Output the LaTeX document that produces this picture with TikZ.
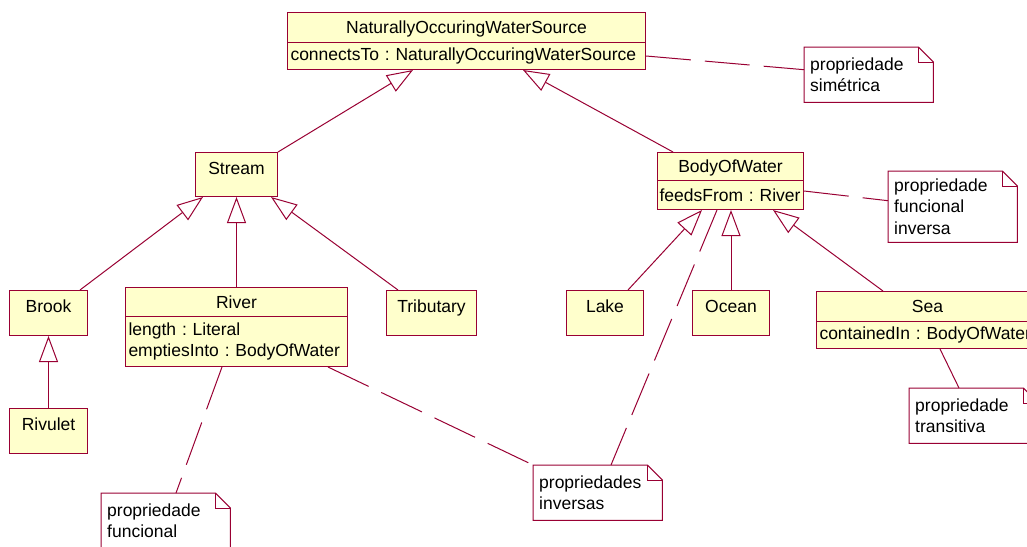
\documentclass[tikz,border=0pt]{standalone}
\usepackage{fontspec}
\setmainfont{Liberation Sans}
\usetikzlibrary{arrows.meta,calc}
\definecolor{rose}{HTML}{990033}
\definecolor{clsfill}{HTML}{FFFFCC}
\frenchspacing
\begin{document}
\begin{tikzpicture}[x=1pt,y=-1pt,
  every node/.style={font=\fontsize{17.5}{21.5}\selectfont},
  cls/.style={draw=rose, fill=clsfill, line width=1pt, anchor=north west, inner xsep=0pt, align=center},
  ttl/.style 2 args={cls, minimum width=#1, minimum height=#2, inner ysep=0pt, text height=12.5pt, text depth=0pt},
  single/.style 2 args={cls, minimum width=#1, inner ysep=9pt, text height=12.5pt, text depth=#2},
  attr/.style={draw=rose, fill=clsfill, line width=1pt, anchor=north west, inner xsep=3pt, inner ysep=0pt, align=left},
  note/.style={fill=white, anchor=north west, inner xsep=6pt, inner ysep=0pt, align=left, minimum width=129pt, text width=117pt},
  notebd/.style={draw=rose, line width=1pt},
  gen/.style={draw=rose, line width=1pt, -{Triangle[open,length=26pt,width=19pt]}},
  link/.style={draw=rose, line width=1pt, dash pattern=on 45pt off 14pt}
]
\fill[white] (0,0) rectangle (1027,546);
\useasboundingbox (0,0) rectangle (1027,546);

% classes
\node[ttl={358pt}{30pt}] (nows) at (287,12) {NaturallyOccuringWaterSource};
\node[attr, minimum width=358pt, text width=352pt, minimum height=27pt] (nowsa) at (287,42) {connectsTo : NaturallyOccuringWaterSource};

\node[single={82pt}{13.5pt}] (stream) at (195,152) {Stream};

\node[ttl={146pt}{28pt}] (bow) at (657,152) {BodyOfWater};
\node[attr, inner xsep=2pt, minimum width=146pt, text width=142pt, minimum height=29pt] (bowa) at (657,180) {\mbox{feedsFrom : River}};

\node[single={78pt}{14.5pt}] (brook) at (9,290) {Brook};
\node[single={78pt}{14.5pt}] (rivulet) at (9,408) {Rivulet};

\node[ttl={222pt}{29pt}] (river) at (125,287) {River};
\node[attr, minimum width=222pt, text width=216pt, minimum height=50pt] (rivera) at (125,316) {length : Literal\\emptiesInto : BodyOfWater};

\node[single={90pt}{14.5pt}] (trib) at (386,290) {Tributary};
\node[single={77pt}{14.5pt}] (lake) at (566,290) {Lake};
\node[single={77pt}{14.5pt}] (ocean) at (692,290) {Ocean};

\node[ttl={222pt}{30pt}] (sea) at (816,291) {Sea};
\node[attr, minimum width=222pt, text width=216pt, minimum height=27pt] (seaa) at (816,321) {containedIn : BodyOfWater};

% notes
\node[note, minimum height=55pt] (sim) at (804,47) {propriedade\\simétrica};
\node[note, minimum height=71pt] (finv) at (888,171) {propriedade\\funcional\\inversa};
\node[note, minimum height=55pt] (trans) at (909,388) {propriedade\\transitiva};
\node[note, minimum height=55pt] (func) at (101,493) {propriedade\\funcional};
\node[note, minimum height=55pt] (inv) at (533,465) {propriedades\\inversas};
\foreach \n in {sim,finv,trans,func,inv}{
  \draw[notebd] (\n.north west) -- ([xshift=-15pt]\n.north east) -- ([yshift=-15pt]\n.north east) -- (\n.south east) -- (\n.south west) -- cycle;
  \draw[notebd] ([xshift=-15pt]\n.north east) |- ([yshift=-15pt]\n.north east);
}

% generalizations
\draw[gen] (stream.north east) -- ([xshift=126pt]nowsa.south west);
\draw[gen] ([xshift=16pt]bow.north west) -- ([xshift=236pt]nowsa.south west);
\draw[gen] ([xshift=-8pt]brook.north east) -- ([xshift=8pt]stream.south west);
\draw[gen] (river.north) -- (river.north |- stream.south);
\draw[gen] ([xshift=12pt]trib.north west) -- ([xshift=-7pt]stream.south east);
\draw[gen] (rivulet.north) -- (rivulet.north |- brook.south);
\draw[gen] ([xshift=-16pt]lake.north east) -- ([xshift=45pt]bowa.south west);
\draw[gen] (ocean.north) -- (ocean.north |- bowa.south);
\draw[gen] ([xshift=67pt]sea.north west) -- ([xshift=-31pt]bowa.south east);

% note links
\draw[link] (nowsa.east) -- ([yshift=5pt]sim.west);
\draw[link] ([yshift=4pt]bowa.east) -- ([yshift=6pt]finv.west);
\draw[link] ([xshift=97pt]rivera.south west) -- ([xshift=75pt]func.north west);
\draw[link] ([xshift=-20pt]rivera.south east) -- (inv.north west);
\draw[link] ([xshift=60pt]bowa.south west) -- ([xshift=78pt]inv.north west);
\draw[link] ([xshift=124pt]seaa.south west) -- ([xshift=50pt]trans.north west);
\end{tikzpicture}
\end{document}
